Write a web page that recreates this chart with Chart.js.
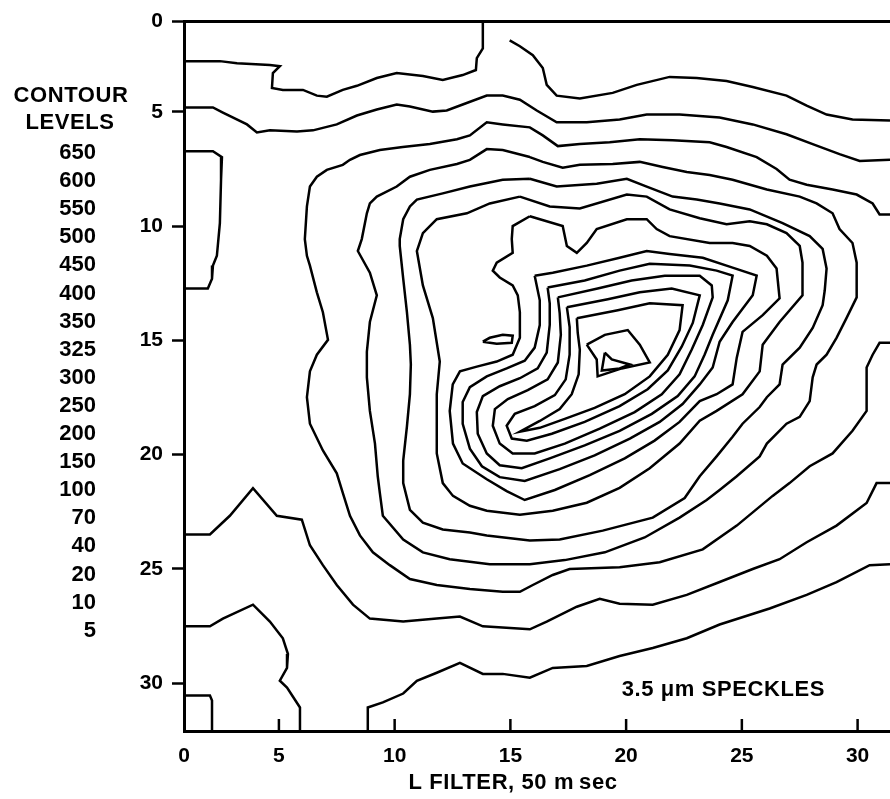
<!DOCTYPE html>
<html>
<head>
<meta charset="utf-8">
<script src="https://cdn.jsdelivr.net/npm/chart.js@4/dist/chart.umd.min.js"></script>
<style>
html,body{margin:0;padding:0;background:#fff;}
#c{display:block;}
</style>
</head>
<body>
<canvas id="c" width="890" height="799"></canvas>
<script>
// ---------- axes ----------
const xTickValues = [0.9, 5, 10, 15, 20, 25, 30];
const xTickLabels = ['0', '5', '10', '15', '20', '25', '30'];
const yTickValues = [1.05, 5, 10, 15, 20, 25, 30];
const yTickLabels = ['0', '5', '10', '15', '20', '25', '30'];
const xRange = [0.9, 31.4];
const yRange = [1.05, 32.1];

const contourLevels = ['650','600','550','500','450','400','350','325','300','250','200','150','100','70','40','20','10','5'];

// ---------- contour lines (x = L filter index, y = row index) ----------
const lineTopLeft = [[13.81,1.05],[13.81,2.22],[13.55,2.65],[13.51,3.17],[12.94,3.39],[12.08,3.60],[11.22,3.43],[10.09,3.30],[9.23,3.52],[8.37,3.86],[7.76,4.04],[7.07,4.34],[6.64,4.29],[6.04,4.04],[5.17,4.04],[4.70,3.95],[4.74,3.30],[5.04,3.00],[4.61,2.95],[3.19,2.87],[2.45,2.78],[0.90,2.78]];
const lineTopRight = [[14.97,1.87],[15.41,2.13],[15.97,2.52],[16.40,3.08],[16.57,3.82],[17.00,4.29],[18.00,4.42],[19.42,4.17],[20.46,3.82],[21.88,3.47],[23.05,3.52],[24.34,3.65],[25.47,3.91],[26.93,4.29],[27.80,4.73],[28.66,5.12],[29.78,5.33],[31.4,5.38]];
const lineUpper = [[0.90,4.81],[2.15,4.81],[2.58,5.03],[3.62,5.55],[4.05,5.90],[4.61,5.81],[5.78,5.86],[6.47,5.81],[7.50,5.55],[8.37,5.16],[9.23,4.90],[10.09,4.68],[10.66,4.77],[11.65,4.99],[12.25,4.94],[12.94,4.68],[13.98,4.29],[14.67,4.29],[15.41,4.47],[16.14,4.94],[17.00,5.46],[18.30,5.46],[19.72,5.33],[20.89,5.12],[22.31,5.12],[24.04,5.25],[25.47,5.55],[26.93,5.98],[28.06,6.41],[29.22,6.85],[30.09,7.15],[31.4,7.10]];
const loopLeft = [[0.90,6.72],[2.15,6.72],[2.54,6.98],[2.50,7.97],[2.45,9.87],[2.32,11.30],[2.15,11.73],[2.11,12.30],[1.93,12.73],[0.90,12.73]];
const lineMain = [[31.4,9.49],[30.95,9.49],[30.65,9.01],[29.96,8.62],[28.92,8.40],[27.80,8.19],[27.06,7.97],[26.50,7.50],[25.64,6.98],[24.34,6.54],[23.61,6.33],[22.01,6.24],[20.59,6.20],[19.29,6.33],[18.00,6.41],[17.05,6.50],[16.40,6.03],[15.84,5.68],[14.67,5.55],[13.98,5.46],[13.25,6.03],[12.69,6.20],[11.52,6.41],[10.35,6.54],[9.36,6.67],[8.50,6.89],[8.07,7.10],[7.76,7.32],[7.07,7.54],[6.64,7.84],[6.34,8.27],[6.21,9.14],[6.12,10.57],[6.21,11.30],[6.34,11.73],[6.64,12.90],[6.90,13.77],[7.12,14.98],[6.64,15.63],[6.34,16.36],[6.21,17.49],[6.34,18.65],[6.90,19.82],[7.50,20.82],[7.76,21.68],[8.07,22.68],[8.50,23.54],[9.06,24.28],[9.79,24.84],[10.66,25.45],[11.82,25.71],[13.25,25.88],[14.67,26.01],[15.41,26.01],[15.97,25.71],[16.83,25.27],[17.56,25.01],[19.72,24.93],[21.45,24.71],[23.31,24.15],[24.78,23.11],[26.33,21.81],[27.06,21.25],[27.93,20.51],[28.92,19.95],[29.78,18.96],[30.39,18.09],[30.39,16.19],[30.65,15.63],[30.95,15.11],[31.4,15.11]];
const lineLower = [[0.90,23.50],[2.02,23.50],[2.88,22.68],[3.88,21.47],[4.91,22.68],[5.99,22.85],[6.34,23.97],[6.90,24.84],[7.50,25.71],[8.20,26.57],[8.93,27.18],[10.37,27.31],[11.82,27.18],[12.82,27.09],[13.81,27.52],[15.84,27.65],[16.57,27.31],[17.87,26.66],[18.86,26.31],[19.72,26.53],[21.15,26.57],[22.62,26.14],[24.04,25.58],[25.47,25.01],[26.63,24.58],[27.80,23.84],[29.09,23.11],[30.39,22.12],[30.82,21.25],[31.4,21.25]];
const lineBottom = [[8.84,32.1],[8.84,31.07],[9.49,30.85],[10.37,30.46],[10.96,29.90],[11.82,29.55],[12.82,29.12],[13.81,29.60],[14.67,29.60],[15.84,29.77],[16.83,29.34],[18.30,29.25],[19.72,28.82],[21.15,28.47],[22.62,28.04],[24.04,27.44],[26.20,26.74],[27.80,26.14],[29.09,25.58],[30.52,24.84],[31.4,24.80]];
const loopBottomLeft = [[0.90,27.52],[2.02,27.52],[2.58,27.18],[3.88,26.57],[4.61,27.31],[5.17,28.04],[5.39,28.73],[5.35,29.34],[5.04,29.90],[5.35,30.20],[5.91,31.07],[5.91,32.1]];
const loopCorner = [[0.90,30.55],[2.02,30.55],[2.11,30.77],[2.11,32.1]];
const ring2 = [[15.84,6.98],[14.67,6.67],[13.98,6.63],[13.25,7.10],[12.69,7.28],[11.52,7.54],[10.66,7.84],[10.09,8.27],[9.23,8.71],[8.93,9.01],[8.80,9.44],[8.58,10.57],[8.41,11.09],[8.93,12.04],[9.23,13.03],[8.93,14.20],[8.80,15.50],[8.80,16.62],[8.93,18.09],[9.15,19.52],[9.27,20.95],[9.36,21.68],[9.49,22.68],[10.37,23.72],[11.22,24.28],[12.38,24.58],[14.11,24.80],[15.84,24.80],[17.35,24.62],[19.08,24.28],[20.80,23.63],[22.31,22.76],[23.48,21.99],[24.04,21.55],[24.78,20.95],[25.77,20.08],[26.08,19.52],[26.93,18.65],[27.50,18.35],[27.93,17.66],[28.06,16.62],[28.23,16.06],[28.66,15.63],[29.09,14.89],[29.52,14.03],[29.96,13.12],[29.96,11.60],[29.78,10.74],[29.22,10.13],[28.92,9.44],[28.23,9.01],[27.50,8.71],[26.08,8.40],[24.60,7.97],[23.61,7.76],[22.62,7.63],[21.58,7.41],[20.59,7.19],[19.42,7.28],[18.00,7.32],[17.26,7.45],[16.40,7.19],[15.84,6.98]];
const ring3 = [[15.84,7.93],[14.67,7.97],[13.25,8.27],[12.08,8.57],[10.96,8.84],[10.66,9.14],[10.37,9.70],[10.22,10.57],[10.22,10.87],[10.37,12.30],[10.53,13.77],[10.66,15.20],[10.70,16.06],[10.66,17.36],[10.53,18.78],[10.37,20.26],[10.37,21.25],[10.66,22.42],[11.22,22.98],[12.08,23.28],[13.25,23.41],[13.98,23.54],[15.84,23.76],[17.13,23.72],[18.99,23.33],[21.15,22.76],[22.53,21.90],[23.18,20.95],[23.91,20.08],[24.60,19.22],[25.03,18.65],[25.77,17.92],[26.08,17.49],[26.63,16.93],[26.76,16.06],[27.50,15.32],[28.06,14.46],[28.49,13.46],[28.58,12.82],[28.66,11.86],[28.49,11.00],[27.93,10.44],[26.76,9.87],[25.34,9.27],[24.04,9.01],[23.05,8.84],[22.01,8.71],[20.89,8.27],[20.03,7.93],[18.73,8.15],[17.00,8.27],[15.84,7.93]];
const ring4 = [[15.41,8.71],[16.70,9.14],[18.00,9.23],[20.03,8.62],[20.89,8.71],[21.88,9.27],[23.18,9.66],[24.34,9.92],[25.34,9.79],[26.08,9.92],[26.93,10.31],[27.50,10.87],[27.62,11.60],[27.62,13.03],[26.63,14.20],[25.90,15.19],[25.77,16.36],[25.03,17.36],[23.91,18.09],[23.18,18.52],[22.31,19.52],[21.02,20.60],[19.72,21.46],[18.30,22.11],[16.83,22.46],[15.41,22.63],[13.98,22.46],[13.25,22.24],[12.52,21.81],[12.08,21.25],[11.82,19.95],[11.82,18.96],[11.82,17.36],[11.95,15.93],[11.65,14.03],[11.22,12.60],[10.96,11.09],[11.22,10.31],[11.82,9.70],[13.12,9.44],[14.11,9.01],[15.41,8.71]];
const ring5 = [[15.84,9.57],[17.26,10.00],[17.44,10.87],[17.87,11.17],[18.30,10.74],[18.73,10.13],[20.03,9.70],[20.89,9.70],[21.32,10.13],[21.88,10.44],[23.61,10.74],[24.60,10.74],[25.34,10.87],[26.08,11.30],[26.50,11.86],[26.63,13.16],[25.90,13.90],[25.03,14.63],[24.78,15.76],[24.60,16.93],[23.91,17.36],[23.18,17.66],[22.31,18.57],[21.23,19.39],[19.94,20.17],[18.43,20.90],[16.92,21.55],[15.62,21.99],[14.84,21.60],[13.98,21.08],[12.94,20.39],[12.52,19.52],[12.38,18.09],[12.51,16.93],[12.82,16.36],[13.55,16.15],[14.41,15.93],[15.10,15.63],[15.41,14.89],[15.41,13.77],[15.32,13.03],[15.10,12.60],[14.54,12.25],[14.24,11.95],[14.41,11.60],[15.10,11.17],[15.06,10.57],[15.10,10.00],[15.84,9.57]];
const islet = [[13.81,15.06],[14.11,14.89],[14.67,14.76],[15.10,14.80],[15.06,15.11],[14.41,15.15],[13.81,15.06]];
const ring6 = [[16.05,12.17],[16.83,12.04],[18.30,11.73],[19.72,11.39],[20.89,11.09],[21.88,11.22],[23.31,11.39],[24.60,11.82],[25.64,12.17],[25.47,13.03],[24.60,14.20],[24.04,15.06],[23.74,16.19],[23.18,16.93],[22.44,17.79],[21.45,18.57],[20.16,19.30],[18.64,20.04],[17.13,20.64],[15.62,21.16],[14.54,20.99],[13.77,20.51],[13.25,19.74],[12.94,18.66],[12.94,17.70],[13.25,17.05],[13.98,16.58],[14.84,16.23],[15.62,15.89],[16.05,15.32],[16.27,14.33],[16.27,13.25],[16.05,12.17]];
const ring7 = [[16.61,12.69],[18.21,12.38],[19.72,11.95],[21.02,11.65],[22.75,11.73],[23.91,11.95],[24.60,12.17],[24.39,13.25],[23.74,14.76],[23.39,15.63],[22.96,16.58],[22.23,17.44],[21.11,18.22],[19.72,18.96],[18.21,19.60],[16.70,20.17],[15.49,20.60],[14.54,20.47],[13.98,19.95],[13.59,19.09],[13.55,18.14],[13.81,17.44],[14.54,17.01],[15.41,16.66],[16.18,16.23],[16.57,15.54],[16.70,14.33],[16.70,13.38],[16.61,12.69]];
const ring8 = [[17.05,13.12],[18.77,12.73],[20.24,12.38],[21.67,12.17],[23.18,12.17],[23.70,12.60],[23.74,13.12],[23.31,14.33],[22.83,15.41],[22.31,16.49],[21.54,17.36],[20.37,18.14],[18.86,18.87],[17.35,19.52],[16.05,19.95],[15.10,19.95],[14.54,19.52],[14.24,18.74],[14.33,18.01],[14.89,17.57],[15.75,17.18],[16.61,16.71],[17.05,15.97],[17.18,14.76],[17.13,13.81],[17.05,13.12]];
const ring9 = [[17.44,13.55],[19.21,13.20],[20.59,12.90],[21.97,12.73],[23.18,13.03],[22.88,14.24],[22.40,15.28],[21.80,16.32],[20.93,17.14],[19.72,17.88],[18.21,18.57],[16.79,19.09],[15.71,19.39],[15.06,19.30],[14.84,18.74],[15.19,18.22],[16.05,17.88],[16.92,17.40],[17.39,16.71],[17.56,15.63],[17.56,14.42],[17.44,13.55]];
const ring10 = [[17.87,14.03],[19.64,13.68],[21.02,13.38],[22.44,13.46],[22.31,14.55],[21.80,15.63],[21.02,16.58],[19.94,17.36],[18.64,17.96],[17.35,18.44],[16.27,18.83],[15.41,19.00],[16.27,18.53],[17.13,18.01],[17.65,17.36],[17.95,16.49],[18.00,15.41],[17.91,14.68],[17.87,14.03]];
const ring11 = [[18.30,15.19],[19.08,14.76],[20.07,14.55],[20.59,15.19],[21.02,15.97],[19.81,16.23],[18.77,16.58],[18.73,15.84],[18.30,15.19]];
const ring12 = [[19.08,15.54],[19.38,15.84],[20.16,16.06],[19.72,16.23],[18.95,16.32],[19.08,15.54]];

const contourLines = [lineTopLeft, lineTopRight, lineUpper, loopLeft, lineMain, lineLower, lineBottom, loopBottomLeft, loopCorner, ring2, ring3, ring4, ring5, islet, ring6, ring7, ring8, ring9, ring10, ring11, ring12];

const FONT = "'Liberation Sans', Arial, Helvetica, sans-serif";

const decor = {
  id: 'decor',
  afterDraw(chart) {
    const ctx = chart.ctx;
    const xs = chart.scales.x, ys = chart.scales.y;
    const a = chart.chartArea;
    ctx.save();
    ctx.strokeStyle = '#000';
    ctx.lineWidth = 3;
    ctx.beginPath();
    ctx.moveTo(a.left - 1, a.top);
    ctx.lineTo(a.right, a.top);
    ctx.stroke();
    ctx.lineWidth = 2.5;
    xTickValues.slice(1).forEach(v => {
      const px = xs.getPixelForValue(v);
      ctx.beginPath();
      ctx.moveTo(px, a.bottom);
      ctx.lineTo(px, a.bottom - 12);
      ctx.stroke();
    });
    ctx.fillStyle = '#000';
    ctx.textBaseline = 'middle';
    ctx.font = 'bold 22px ' + FONT;
    if ('letterSpacing' in ctx) ctx.letterSpacing = '0.6px';
    ctx.textAlign = 'center';
    ctx.fillText('CONTOUR', 71, 96);
    ctx.fillText('LEVELS', 70, 123);
    ctx.fillText('L FILTER, 50 m\u2009sec', 513, 783);
    ctx.fillText('3.5 \u03bcm SPECKLES', xs.getPixelForValue(24.2), ys.getPixelForValue(30.3));
    if ('letterSpacing' in ctx) ctx.letterSpacing = '0px';
    ctx.textAlign = 'right';
    contourLevels.forEach((t, i) => ctx.fillText(t, 96, 153 + i * 28.1));
    ctx.restore();
  }
};

new Chart(document.getElementById('c'), {
  type: 'scatter',
  data: {
    datasets: contourLines.map((pts, i) => ({
      label: 'contour ' + (i + 1),
      data: pts.map(p => ({ x: p[0], y: p[1] })),
      showLine: true,
      pointRadius: 0,
      borderColor: '#000',
      borderWidth: 2.5,
      tension: 0,
      fill: false
    }))
  },
  options: {
    responsive: false,
    devicePixelRatio: 1,
    animation: false,
    layout: { padding: { top: 13, right: 0, left: 0, bottom: 0 } },
    plugins: { legend: { display: false }, tooltip: { enabled: false } },
    scales: {
      x: {
        type: 'linear',
        min: xRange[0], max: xRange[1],
        afterBuildTicks: s => { s.ticks = xTickValues.map(v => ({ value: v })); },
        afterFit: s => { s.height = 68; },
        ticks: {
          autoSkip: false, maxRotation: 0,
          padding: 13,
          color: '#000',
          font: { family: FONT, weight: 'bold', size: 21 },
          callback: (v, i) => xTickLabels[i]
        },
        grid: { drawOnChartArea: false, drawTicks: false },
        border: { display: true, color: '#000', width: 3 }
      },
      y: {
        type: 'linear',
        reverse: true,
        min: yRange[0], max: yRange[1],
        afterBuildTicks: s => { s.ticks = yTickValues.map(v => ({ value: v })); },
        afterFit: s => { s.width = 184; },
        ticks: {
          autoSkip: false,
          padding: 9,
          color: '#000',
          font: { family: FONT, weight: 'bold', size: 21 },
          callback: (v, i) => yTickLabels[i]
        },
        grid: { drawOnChartArea: false, drawTicks: true, tickLength: 12, tickWidth: 2.5, tickColor: '#000' },
        border: { display: true, color: '#000', width: 3 }
      }
    }
  },
  plugins: [decor]
});
</script>
</body>
</html>
